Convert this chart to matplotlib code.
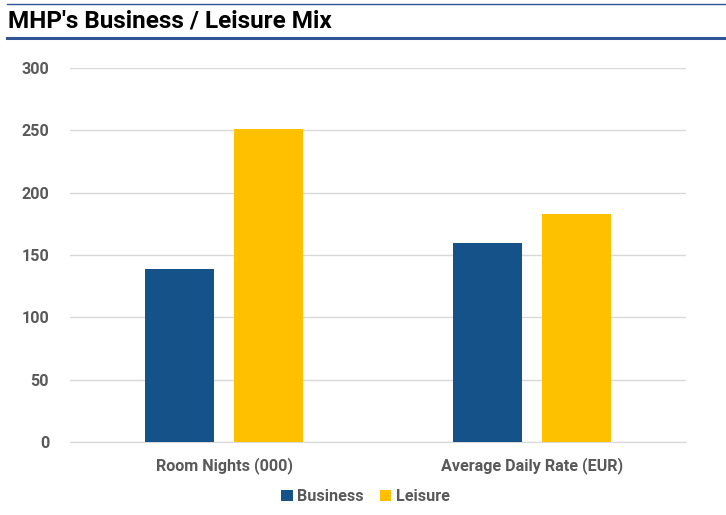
import numpy as np
import matplotlib.pyplot as plt
from matplotlib.lines import Line2D

categories = ['Room Nights (000)', 'Average Daily Rate (EUR)']
business = [139, 160]
leisure = [251, 183]
yticks = [0, 50, 100, 150, 200, 250, 300]

plt.rcParams['font.family'] = ['Roboto', 'DejaVu Sans']

fig = plt.figure(figsize=(7.26, 5.15), dpi=100)
ax = fig.add_axes([70/726, 1-442/515, 616/726, 374/515])

x = np.arange(len(categories))
width = 0.224
off = 0.143
ax.bar(x - off, business, width, color='#16528A', label='Business', zorder=3)
ax.bar(x + off, leisure, width, color='#FFC000', label='Leisure', zorder=3)

ax.set_xlim(-0.5, 1.5)
ax.set_ylim(0, 300)
ax.set_yticks(yticks)
ax.set_xticks(x)
ax.set_xticklabels(categories)
ax.grid(axis='y', color='#d9d9d9', linewidth=1, zorder=0)
for s in ['top', 'right', 'left']:
    ax.spines[s].set_visible(False)
ax.spines['bottom'].set_color('#d9d9d9')
ax.tick_params(length=0, labelsize=11.6, colors='#595959', pad=11)
ax.tick_params(axis='y', pad=15)
for lbl in ax.get_xticklabels() + ax.get_yticklabels():
    lbl.set_fontweight('bold')

ax.legend(loc='upper center', bbox_to_anchor=(0.48, -0.087), ncol=2, frameon=False,
          prop={'weight': 'bold', 'size': 11.6}, labelcolor='#595959',
          handlelength=0.7, handleheight=0.7, handletextpad=0.3, columnspacing=1.0)

# title and rules
fig.text(8/726, 1-21/515, "MHP's Business / Leisure Mix", fontsize=17.5, fontweight='bold',
         color='black', va='center', ha='left')
fig.add_artist(Line2D([7/726, 1], [1-4/515, 1-4/515], color='#2F5597', linewidth=1))
fig.add_artist(Line2D([7/726, 1], [1-38/515, 1-38/515], color='#2F5597', linewidth=2.2))

fig.savefig('out.png', dpi=100)
